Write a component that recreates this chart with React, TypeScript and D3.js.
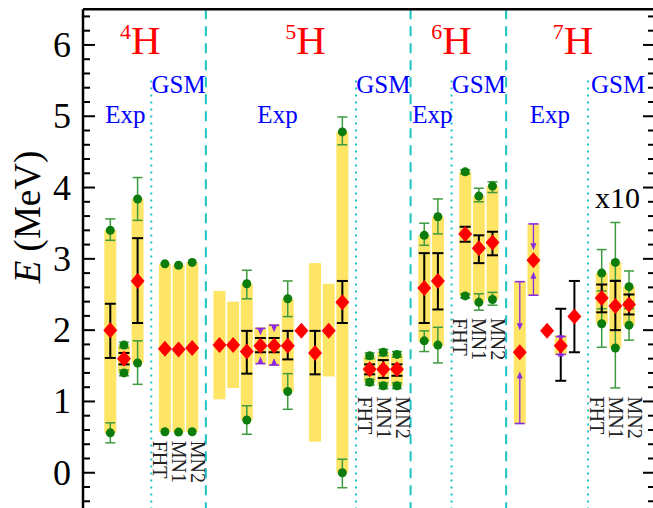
import React from "react";
import * as d3 from "d3";

// ---------- data ----------
const slots = [2, 3, 4, 6, 7, 8, 10, 11, 12, 13, 14, 15, 16, 17, 18, 19, 21, 22, 23, 25, 26, 28, 29, 30, 32, 33, 34, 35, 36, 38, 39, 40];
const bandLo: (number | null)[] = [0.56, 1.4, 1.54, 0.575, 0.57, 0.575, 1.03, 1.19, 0.74, 1.53, 1.5, 1.14, null, 0.435, 1.35, 0.0, 1.27, 1.22, 1.22, 1.84, 1.78, 2.48, 2.4, 2.43, 0.69, 2.49, null, 1.65, null, 2.09, 1.75, 2.07];
const bandHi: (number | null)[] = [3.4, 1.79, 3.84, 2.93, 2.91, 2.95, 2.55, 2.4, 2.65, 2.04, 2.085, 2.44, null, 2.94, 2.65, 4.78, 1.64, 1.69, 1.66, 3.33, 3.59, 4.22, 3.88, 4.02, 2.68, 3.49, null, 1.93, null, 2.8, 2.95, 2.61];
const diamond = [2.0, 1.6, 2.69, 1.74, 1.73, 1.75, 1.79, 1.79, 1.7, 1.78, 1.78, 1.78, 1.99, 1.68, 1.99, 2.39, 1.45, 1.45, 1.45, 2.59, 2.69, 3.35, 3.15, 3.23, 1.69, 2.98, 1.99, 1.78, 2.19, 2.45, 2.34, 2.36];
const errLo: (number | null)[] = [1.61, 1.52, 2.1, null, null, null, null, null, 1.39, 1.69, 1.69, 1.59, null, 1.38, null, 2.1, 1.38, 1.33, 1.36, 2.1, 2.29, 3.24, 2.94, 3.05, null, null, null, 1.29, 1.69, 2.25, 2.0, 2.22];
const errHi: (number | null)[] = [2.37, 1.68, 3.29, null, null, null, null, null, 1.99, 1.89, 1.89, 1.99, null, 1.99, null, 2.69, 1.52, 1.58, 1.52, 3.08, 3.08, 3.45, 3.33, 3.38, null, null, null, 2.3, 2.69, 2.64, 2.69, 2.5];
// green points (upper / lower ends) and their error bars
const gTop: (number | null)[] = [3.4, 1.79, 3.84, 2.93, 2.91, 2.95, null, null, 2.65, null, null, 2.44, null, null, null, 4.78, 1.64, 1.69, 1.66, 3.33, 3.59, 4.22, 3.88, 4.02, null, null, null, null, null, 2.8, 2.95, 2.61];
const gTopLo: (number | null)[] = [3.26, 1.75, 3.54, null, null, null, null, null, 2.44, null, null, 2.19, null, null, null, 4.6, 1.6, 1.64, 1.62, 3.19, 3.35, 4.19, 3.8, 3.93, null, null, null, null, null, 2.55, 2.7, 2.4];
const gTopHi: (number | null)[] = [3.56, 1.83, 4.14, null, null, null, null, null, 2.84, null, null, 2.69, null, null, null, 4.99, 1.68, 1.73, 1.7, 3.5, 3.84, 4.25, 3.99, 4.08, null, null, null, null, null, 3.13, 3.51, 2.83];
const gBot: (number | null)[] = [0.56, 1.4, 1.54, 0.575, 0.57, 0.575, null, null, 0.74, null, null, 1.14, null, null, null, 0.0, 1.27, 1.22, 1.22, 1.85, 1.79, 2.48, 2.39, 2.43, null, null, null, null, null, 2.09, 1.75, 2.07];
const gBotLo: (number | null)[] = [0.42, 1.36, 1.24, null, null, null, null, null, 0.54, null, null, 0.89, null, null, null, -0.21, 1.23, 1.18, 1.18, 1.7, 1.54, 2.45, 2.28, 2.35, null, null, null, null, null, 1.76, 1.19, 1.86];
const gBotHi: (number | null)[] = [0.7, 1.44, 1.85, null, null, null, null, null, 0.94, null, null, 1.39, null, null, null, 0.19, 1.31, 1.26, 1.26, 1.99, 2.04, 2.51, 2.51, 2.53, null, null, null, null, null, 2.3, 2.0, 2.3];
// purple limits: cap value and arrow tip value
const pHi: (number | null)[] = [null, null, null, null, null, null, null, null, null, 2.025, 2.07, null, null, null, null, null, null, null, null, null, null, null, null, null, 2.68, 3.49, null, 1.91, null, null, null, null];
const pHiTip: (number | null)[] = [null, null, null, null, null, null, null, null, null, 1.93, 1.97, null, null, null, null, null, null, null, null, null, null, null, null, null, 2.0, 3.12, null, 1.83, null, null, null, null];
const pLo: (number | null)[] = [null, null, null, null, null, null, null, null, null, 1.53, 1.51, null, null, null, null, null, null, null, null, null, null, null, null, null, 0.69, 2.49, null, 1.66, null, null, null, null];
const pLoTip: (number | null)[] = [null, null, null, null, null, null, null, null, null, 1.63, 1.61, null, null, null, null, null, null, null, null, null, null, null, null, null, 1.42, 2.82, null, 1.73, null, null, null, null];

const nuclei = ["4", "5", "6", "7"];
const nucleusSlot = [4.2, 16.3, 27, 35.9];
const expSlot = [3.1, 14.25, 25.6, 34.2];
const gsmSlot = [7, 22, 29, 39.2];
const dashedSlots = [9, 24, 31];
const dottedSlots = [5, 20, 27, 37];
const methodNames = ["FHT", "MN1", "MN2"];
const methodMidSlot = [7, 22, 29, 39];
const methodTop = [0.45, 1.07, 2.17, 1.07];
const yTicks = [0, 1, 2, 3, 4, 5, 6];

// ---------- layout ----------
const W = 653, H = 508;
const x = d3.scaleLinear().domain([0, 42]).range([83, 656.3]);
const y = d3.scaleLinear().domain([-0.5, 6.5]).range([508.4, 9.3]);
const minorTicks = d3.range(-0.4, 6.5, 0.2).map((v) => Math.round(v * 10) / 10);

const YELLOW = "#FFE566";
const RED = "#FF0000";
const GREEN = "#0C7C0C";
const GREEN_ERR = "#3E9B3E";
const PURPLE = "#8A2BE2";
const CYAN = "#1CC4C4";
const serif = "'Liberation Serif', 'Times New Roman', serif";

function ErrBar({ cx, lo, hi, color, cap, width }: { cx: number; lo: number; hi: number; color: string; cap: number; width: number }) {
  return (
    <g stroke={color} strokeWidth={width} fill="none">
      <line x1={cx} x2={cx} y1={y(lo)} y2={y(hi)} />
      <line x1={cx - cap} x2={cx + cap} y1={y(lo)} y2={y(lo)} />
      <line x1={cx - cap} x2={cx + cap} y1={y(hi)} y2={y(hi)} />
    </g>
  );
}

function Arrow({ cx, from, to }: { cx: number; from: number; to: number }) {
  const y0 = y(from), y1 = y(to);
  const dir = y1 > y0 ? 1 : -1;
  return (
    <g>
      <line x1={cx - 5} x2={cx + 5} y1={y0} y2={y0} stroke={PURPLE} strokeWidth={1.6} />
      <line x1={cx} x2={cx} y1={y0} y2={y1 - dir * 5} stroke={PURPLE} strokeWidth={1.3} />
      <path d={`M${cx - 3},${y1 - dir * 7} L${cx + 3},${y1 - dir * 7} L${cx},${y1} Z`} fill={PURPLE} />
    </g>
  );
}

export default function App() {
  const bw = 12;
  return (
    <svg width={W} height={H} style={{ display: "block", position: "absolute", left: 0, top: 0 }} fontFamily={serif}>
      <rect width={W} height={H} fill="#fff" />
      {/* dividers */}
      {dashedSlots.map((s, i) => (
        <line key={"d" + i} x1={x(s)} x2={x(s)} y1={y(6.5)} y2={H} stroke={CYAN} strokeWidth={2} strokeDasharray="10,7" />
      ))}
      {dottedSlots.map((s, i) => (
        <line key={"o" + i} x1={x(s)} x2={x(s)} y1={y(5.5)} y2={H} stroke={CYAN} strokeWidth={2} strokeDasharray="2,5" />
      ))}
      {/* yellow bands */}
      {slots.map((s, i) =>
        bandLo[i] == null ? null : (
          <rect key={"b" + i} x={x(s) - bw / 2} width={bw} y={y(bandHi[i] as number)} height={y(bandLo[i] as number) - y(bandHi[i] as number)} fill={YELLOW} />
        )
      )}
      {/* green error bars */}
      {slots.map((s, i) => (
        <g key={"ge" + i}>
          {gTopLo[i] != null && <ErrBar cx={x(s)} lo={gTopLo[i] as number} hi={gTopHi[i] as number} color={GREEN_ERR} cap={5} width={1.5} />}
          {gBotLo[i] != null && <ErrBar cx={x(s)} lo={gBotLo[i] as number} hi={gBotHi[i] as number} color={GREEN_ERR} cap={5} width={1.5} />}
        </g>
      ))}
      {/* green dots */}
      {slots.map((s, i) => (
        <g key={"gd" + i} fill={GREEN}>
          {gTop[i] != null && <circle cx={x(s)} cy={y(gTop[i] as number)} r={4.5} />}
          {gBot[i] != null && <circle cx={x(s)} cy={y(gBot[i] as number)} r={4.5} />}
        </g>
      ))}
      {/* black error bars */}
      {slots.map((s, i) =>
        errLo[i] == null ? null : <ErrBar key={"e" + i} cx={x(s)} lo={errLo[i] as number} hi={errHi[i] as number} color="#000" cap={5.5} width={2} />
      )}
      {/* purple limits */}
      {slots.map((s, i) => (
        <g key={"p" + i}>
          {pHi[i] != null && <Arrow cx={x(s)} from={pHi[i] as number} to={pHiTip[i] as number} />}
          {pLo[i] != null && <Arrow cx={x(s)} from={pLo[i] as number} to={pLoTip[i] as number} />}
        </g>
      ))}
      {/* diamonds */}
      {slots.map((s, i) => {
        const cx = x(s), cy = y(diamond[i]);
        return <path key={"dm" + i} d={`M${cx},${cy - 8} L${cx + 7},${cy} L${cx},${cy + 8} L${cx - 7},${cy} Z`} fill={RED} />;
      })}
      {/* headers */}
      {nuclei.map((n, i) => (
        <text key={"n" + i} x={x(nucleusSlot[i])} y={54} textAnchor="middle" fill={RED} fontSize={41}>
          <tspan fontSize={22} dy={-15}>{n}</tspan>
          <tspan dy={15}>H</tspan>
        </text>
      ))}
      {expSlot.map((s, i) => (
        <text key={"x" + i} x={x(s)} y={123} textAnchor="middle" fill="#0000FF" fontSize={25}>Exp</text>
      ))}
      {gsmSlot.map((s, i) => (
        <text key={"g" + i} x={x(s)} y={93} textAnchor="middle" fill="#0000FF" fontSize={25}>GSM</text>
      ))}
      {methodMidSlot.map((ms, gi) =>
        methodNames.map((name, j) => (
          <text key={"m" + gi + j} transform={`translate(${x(ms) + (j - 1) * 19 - 6.5},${y(methodTop[gi])}) rotate(90)`} fontSize={20} fill="#222">
            {name}
          </text>
        ))
      )}
      <text x={595} y={208} fontSize={30} fill="#000">x10</text>
      {/* axes */}
      <line x1={83} x2={W} y1={y(6.5)} y2={y(6.5)} stroke="#000" strokeWidth={2.5} />
      <line x1={83} x2={83} y1={y(6.5)} y2={H} stroke="#000" strokeWidth={2.5} />
      {yTicks.map((t) => (
        <g key={"t" + t}>
          <line x1={83} x2={95} y1={y(t)} y2={y(t)} stroke="#000" strokeWidth={2} />
          <line x1={656} x2={643} y1={y(t)} y2={y(t)} stroke="#000" strokeWidth={2} />
          <text x={71} y={y(t) + 12} textAnchor="end" fontSize={36} fill="#000">{t}</text>
        </g>
      ))}
      {minorTicks.filter((v) => Math.abs(v - Math.round(v)) > 0.01).map((v, i) => (
        <g key={"mt" + i}>
          <line x1={83} x2={90} y1={y(v)} y2={y(v)} stroke="#000" strokeWidth={2} />
          <line x1={656} x2={648} y1={y(v)} y2={y(v)} stroke="#000" strokeWidth={2} />
        </g>
      ))}
      <text transform={`translate(40,217) rotate(-90)`} textAnchor="middle" fontSize={37} fill="#000">
        <tspan fontStyle="italic">E</tspan> (MeV)
      </text>
    </svg>
  );
}
